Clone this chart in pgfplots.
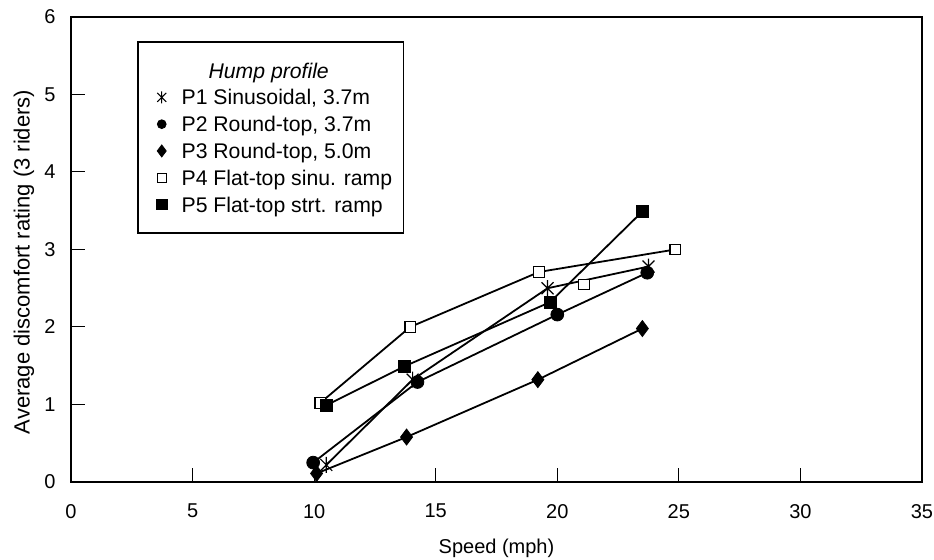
\documentclass[border=0pt]{standalone}
\usepackage{fontspec}
\setmainfont{Liberation Sans}
\usepackage{pgfplots}
\pgfplotsset{compat=1.18}
\pgfdeclareplotmark{ast}{%
  \pgfpathmoveto{\pgfqpoint{0pt}{-\pgfplotmarksize}}%
  \pgfpathlineto{\pgfqpoint{0pt}{\pgfplotmarksize}}%
  \pgfpathmoveto{\pgfqpoint{-.75\pgfplotmarksize}{-.75\pgfplotmarksize}}%
  \pgfpathlineto{\pgfqpoint{.75\pgfplotmarksize}{.75\pgfplotmarksize}}%
  \pgfpathmoveto{\pgfqpoint{-.75\pgfplotmarksize}{.75\pgfplotmarksize}}%
  \pgfpathlineto{\pgfqpoint{.75\pgfplotmarksize}{-.75\pgfplotmarksize}}%
  \pgfusepathqstroke}
\begin{document}
\begin{tikzpicture}
\begin{axis}[
  scale only axis,
  width=425.5pt, height=232.5pt,
  xmin=0, xmax=35, ymin=0, ymax=6,
  xtick={0,5,...,35}, ytick={0,1,...,6},
  tick align=inside, tick pos=left,
  major tick length=7pt,
  axis line style={line width=1pt},
  every tick/.style={black, line width=0.5pt},
  /pgf/number format/assume math mode=true,
  tick label style={font=\fontsize{10}{12}\selectfont},
  xticklabel style={yshift=-7.5pt},
  yticklabel style={xshift=-4.2pt},
  xlabel={Speed (mph)},
  ylabel={Average discomfort rating (3 riders)},
  xlabel style={font=\fontsize{10}{12}\selectfont, at={(axis description cs:0.5,-0.142)}, anchor=center},
  ylabel style={font=\fontsize{11}{13}\selectfont, at={(axis description cs:-0.0552,0.473)}, anchor=center},
  clip mode=individual,
  legend cell align=left,
  legend style={at={(axis description cs:0.0776,0.948)}, anchor=north west,
    draw=black, line width=0.8pt, fill=white,
    inner xsep=5.7pt, inner ysep=10.5pt,
    column sep=6.5pt, row sep=5.8pt,
    nodes={inner sep=0pt, text height=7.6pt, text depth=0pt},
    font=\fontsize{10.6}{12}\selectfont},
]
\addlegendimage{empty legend}
\addlegendentry{\hspace*{13.5pt}\itshape Hump profile}

\addplot[black, line width=0.9pt, mark=ast, mark size=4pt, mark options={line width=0.6pt},
  legend image code/.code={\path (-5.8pt,0pt) (3pt,0pt); \pgfsetlinewidth{0.5pt}\pgfsetplotmarksize{3pt}\pgfuseplotmark{ast}}]
  coordinates {(10.5,0.22) (14.05,1.32) (19.6,2.50) (23.75,2.78)};
\addlegendentry{P1 Sinusoidal, 3.7m}

\addplot[black, line width=0.9pt, mark=*, mark size=3.2pt, mark options={line width=0.4pt, fill=black},
  legend image code/.code={\path (-5.8pt,0pt) (3pt,0pt); \pgfsetlinewidth{0.4pt}\pgfsetfillcolor{black}\pgfsetplotmarksize{2.2pt}\pgfuseplotmark{*}}]
  coordinates {(9.96,0.25) (14.25,1.29) (20.0,2.16) (23.7,2.70)};
\addlegendentry{P2 Round-top, 3.7m}

\addplot[black, line width=0.9pt, mark=diamond*, mark size=4pt, mark options={line width=0.4pt, fill=black},
  legend image code/.code={\path (-5.8pt,0pt) (3pt,0pt); \pgfsetlinewidth{0.4pt}\pgfsetfillcolor{black}\pgfsetplotmarksize{3pt}\pgfuseplotmark{diamond*}}]
  coordinates {(10.1,0.11) (13.8,0.58) (19.2,1.32) (23.5,1.98)};
\addlegendentry{P3 Round-top, 5.0m}

\addplot[black, line width=0.9pt, mark=square*, mark size=2.6pt, mark options={line width=0.6pt, fill=white},
  legend image code/.code={\path (-5.8pt,0pt) (3pt,0pt); \pgfsetlinewidth{0.5pt}\pgfsetfillcolor{white}\pgfsetplotmarksize{2.2pt}\pgfuseplotmark{square*}}]
  coordinates {(10.25,1.02) (13.95,2.0) (19.25,2.71) (24.85,3.0)};
\addlegendentry{P4 Flat-top sinu. ramp}

\addplot[black, line width=0.9pt, mark=square*, mark size=3pt, mark options={line width=0.4pt, fill=black},
  legend image code/.code={\path (-5.8pt,0pt) (3pt,0pt); \pgfsetlinewidth{0.4pt}\pgfsetfillcolor{black}\pgfsetplotmarksize{2.6pt}\pgfuseplotmark{square*}}]
  coordinates {(10.5,0.99) (13.7,1.49) (19.7,2.32) (23.5,3.49)};
\addlegendentry{P5 Flat-top strt. ramp}

\addplot[black, only marks, mark=square*, mark size=2.6pt, mark options={line width=0.6pt, fill=white}, forget plot]
  coordinates {(21.1,2.55)};
\end{axis}
\pgfresetboundingbox
\path ([xshift=-35.5pt,yshift=-39pt]current axis.south west) rectangle ([xshift=6pt,yshift=8.5pt]current axis.north east);
\end{tikzpicture}
\end{document}
